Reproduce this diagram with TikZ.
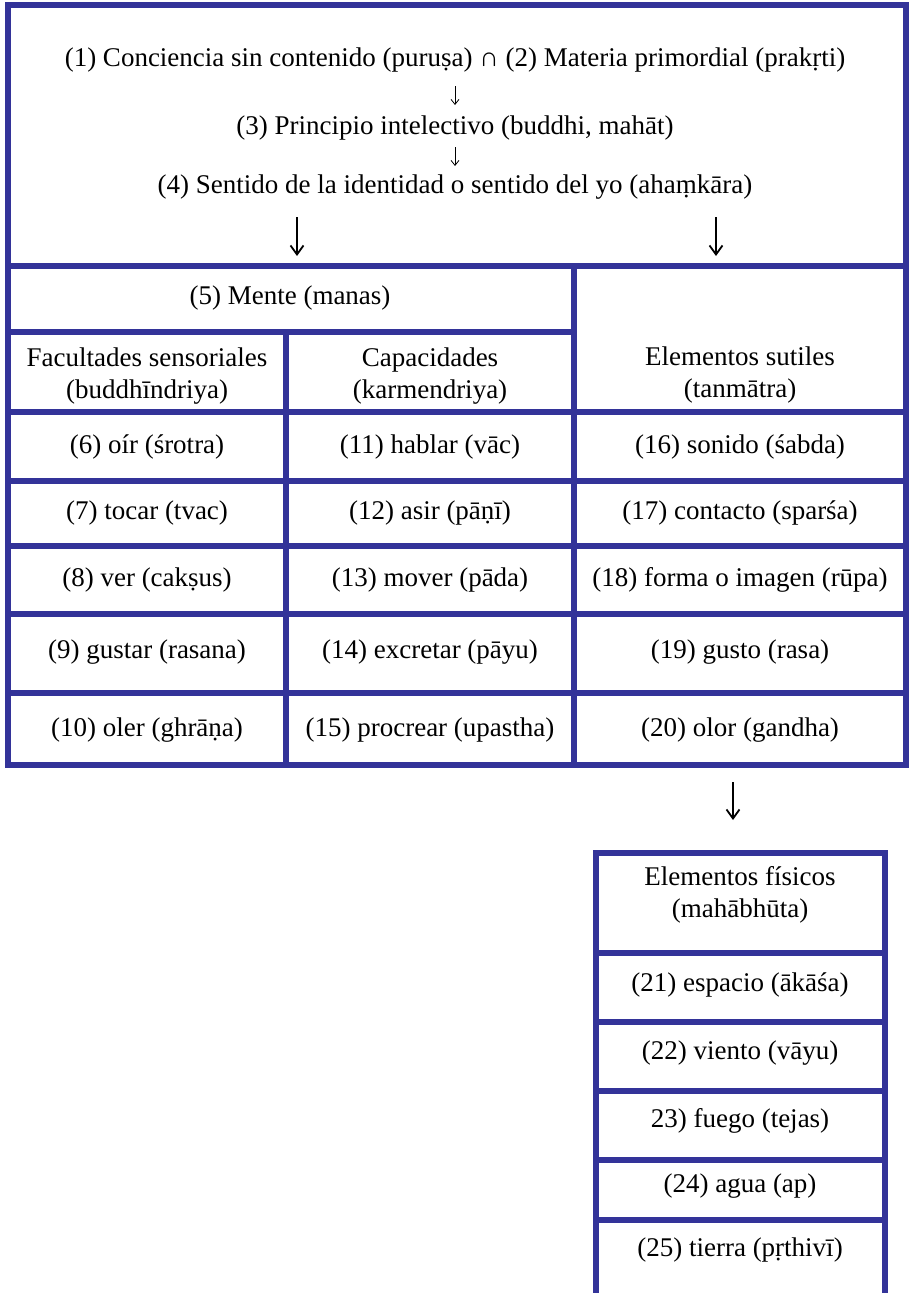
\documentclass[tikz,border=0pt]{standalone}
\usepackage{fontspec}
\setmainfont{Liberation Serif}
\usetikzlibrary{arrows.meta}
\definecolor{frame}{RGB}{51,51,153}
\begin{document}
\begin{tikzpicture}[x=1pt,y=-1pt,
  lbl/.style={font=\fontsize{27}{32}\selectfont, inner sep=0pt, align=center},
  gridline/.style={draw=frame, line width=6pt},
  bigarr/.style={line width=1.8pt, -{Straight Barb[length=9pt,width=13pt,line width=1.8pt]}},
  smallarr/.style={line width=0.8pt, -{Straight Barb[length=5pt,width=8pt,line width=0.8pt]}}]
\useasboundingbox (0,0) rectangle (909,1293);

% frames of the upper table
\draw[gridline] (8,5) rectangle (906,765);
\draw[gridline] (8,266) -- (906,266);
\draw[gridline] (8,332) -- (574,332);
\draw[gridline] (574,266) -- (574,765);
\draw[gridline] (286,332) -- (286,765);
\foreach \yy in {412,481,546,614,693} \draw[gridline] (8,\yy) -- (906,\yy);

% lower table
\draw[gridline] (596,1296) -- (596,853) -- (885,853) -- (885,1296);
\foreach \yy in {953,1022,1091,1160,1220} \draw[gridline] (596,\yy) -- (885,\yy);

% top texts
\node[lbl] (l1) at (455,60) {(1) Conciencia sin contenido (puruṣa) ∩ (2) Materia primordial (prakṛti)};
\node[lbl] (l2) at (455,128) {(3) Principio intelectivo (buddhi, mahāt)};
\node[lbl] (l3) at (455,187) {(4) Sentido de la identidad o sentido del yo (ahaṃkāra)};
\draw[smallarr] (455,86) -- (455,105);
\draw[smallarr] (455,147) -- (455,166);

\coordinate (a1s) at (297,217);
\coordinate (a1e) at (297,256);
\coordinate (a2s) at (716,217);
\coordinate (a2e) at (716,256);
\draw[bigarr] (a1s) -- (a1e);
\draw[bigarr] (a2s) -- (a2e);

% headers
\node[lbl] (mente) at (290,298) {(5) Mente (manas)};
\node[lbl] (sutil) at (740,375) {Elementos sutiles\\(tanmātra)};
\node[lbl] (facu) at (147,376) {Facultades sensoriales\\(buddhīndriya)};
\node[lbl] (capa) at (430,376) {Capacidades\\(karmendriya)};

% rows
\node[lbl] (c6) at (147,447) {(6) oír (śrotra)};
\node[lbl] (c7) at (147,513) {(7) tocar (tvac)};
\node[lbl] (c8) at (147,580) {(8) ver (cakṣus)};
\node[lbl] (c9) at (147,652) {(9) gustar (rasana)};
\node[lbl] (c10) at (147,730) {(10) oler (ghrāṇa)};

\node[lbl] (c11) at (430,447) {(11) hablar (vāc)};
\node[lbl] (c12) at (430,513) {(12) asir (pāṇī)};
\node[lbl] (c13) at (430,580) {(13) mover (pāda)};
\node[lbl] (c14) at (430,652) {(14) excretar (pāyu)};
\node[lbl] (c15) at (430,730) {(15) procrear (upastha)};

\node[lbl] (c16) at (740,447) {(16) sonido (śabda)};
\node[lbl] (c17) at (740,513) {(17) contacto (sparśa)};
\node[lbl] (c18) at (740,580) {(18) forma o imagen (rūpa)};
\node[lbl] (c19) at (740,652) {(19) gusto (rasa)};
\node[lbl] (c20) at (740,730) {(20) olor (gandha)};

% arrow to lower table
\coordinate (a3s) at (733,782);
\coordinate (a3e) at (733,820);
\draw[bigarr] (a3s) -- (a3e);

% lower table texts
\node[lbl] (fis) at (740,895) {Elementos físicos\\(mahābhūta)};
\node[lbl] (c21) at (740,985) {(21) espacio (ākāśa)};
\node[lbl] (c22) at (740,1053) {(22) viento (vāyu)};
\node[lbl] (c23) at (740,1121) {23) fuego (tejas)};
\node[lbl] (c24) at (740,1186) {(24) agua (ap)};
\node[lbl] (c25) at (740,1250) {(25) tierra (pṛthivī)};
\end{tikzpicture}
\end{document}
